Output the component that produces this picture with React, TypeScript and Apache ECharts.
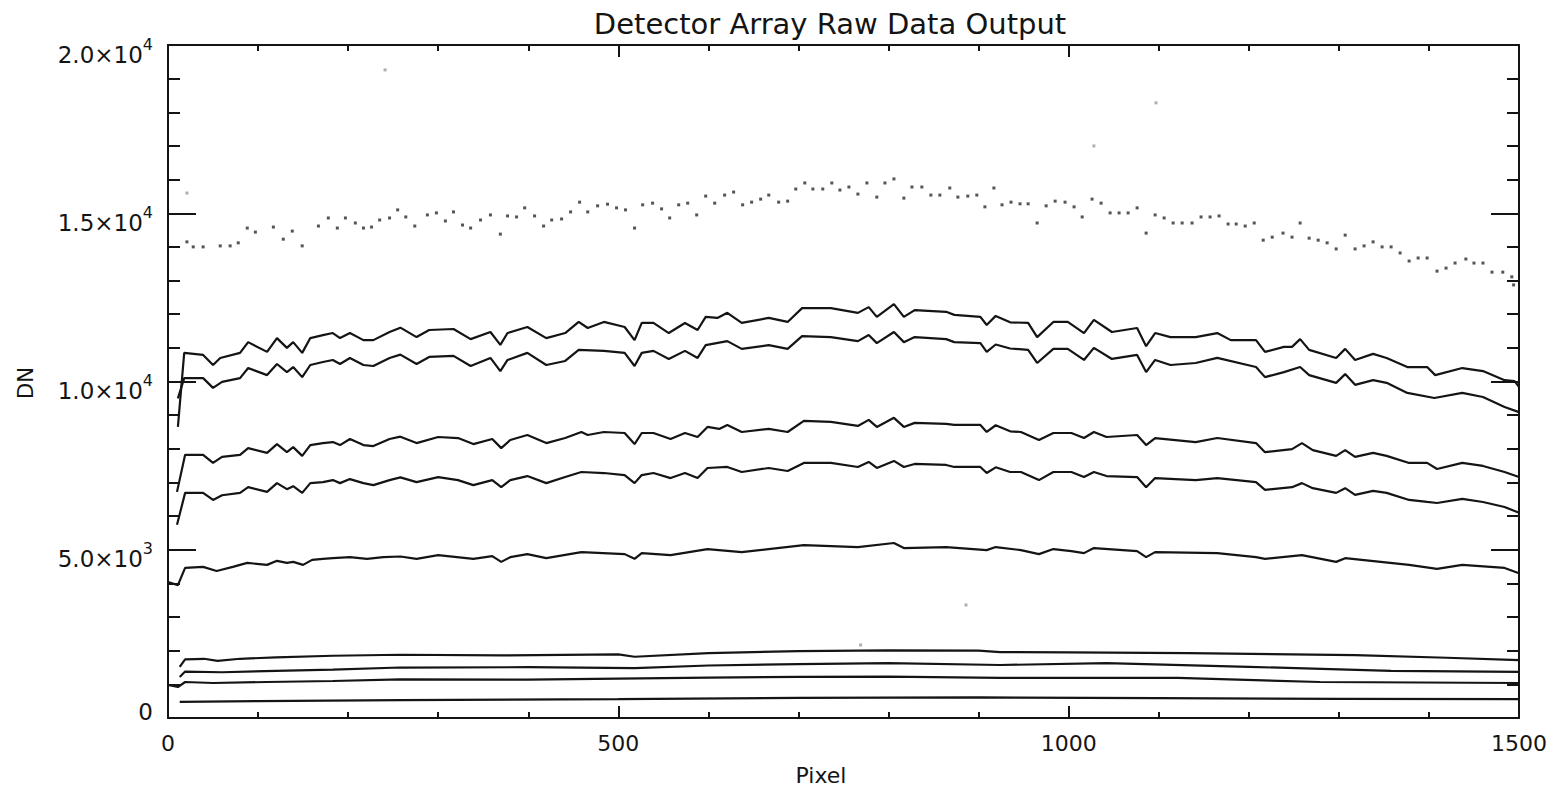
import React, { useEffect, useRef } from "react";
import * as echarts from "echarts";

const TITLE = "Detector Array Raw Data Output";
const X_NAME = "Pixel";
const Y_NAME = "DN";
const X_MIN = 0;
const X_MAX = 1500;
const X_STEP = 500;
const Y_MIN = 0;
const Y_MAX = 20000;
const Y_STEP = 5000;

// [pixel, DN]
const lineA: [number, number][] = [
  [11, 8650], [18, 10850], [39, 10790], [50, 10490], [58, 10700], [80, 10850], [89, 11170], [110, 10880],
  [121, 11290], [132, 11000], [139, 11170], [149, 10850], [158, 11290], [172, 11380], [183, 11440], [191, 11290],
  [202, 11440], [217, 11230], [228, 11230], [246, 11470], [258, 11600], [276, 11320], [290, 11530], [317, 11560],
  [336, 11260], [358, 11470], [369, 11090], [377, 11440], [399, 11620], [420, 11290], [441, 11440], [456, 11770],
  [466, 11590], [484, 11770], [507, 11620], [518, 11230], [526, 11740], [539, 11740], [556, 11440], [574, 11740],
  [588, 11530], [597, 11920], [610, 11890], [621, 12040], [637, 11740], [667, 11890], [688, 11770], [704, 12180],
  [736, 12180], [766, 12040], [778, 12210], [787, 11920], [806, 12300], [817, 11920], [829, 12120], [864, 12070],
  [873, 11980], [902, 11920], [909, 11680], [919, 11950], [935, 11760], [955, 11740], [965, 11320], [983, 11770],
  [999, 11770], [1017, 11440], [1028, 11830], [1048, 11470], [1076, 11590], [1086, 11050], [1096, 11440],
  [1113, 11320], [1141, 11320], [1165, 11440], [1180, 11230], [1208, 11230], [1218, 10880], [1239, 11030],
  [1248, 11030], [1257, 11260], [1267, 10940], [1297, 10700], [1307, 10970], [1318, 10640], [1338, 10820],
  [1353, 10700], [1376, 10430], [1398, 10430], [1407, 10190], [1437, 10400], [1460, 10310], [1484, 10040],
  [1495, 10010], [1500, 9840],
];

const lineB: [number, number][] = [
  [11, 9500], [18, 10100], [39, 10100], [50, 9810], [60, 9990], [80, 10100], [89, 10400], [110, 10190],
  [121, 10520], [132, 10280], [139, 10430], [149, 10130], [158, 10490], [172, 10580], [183, 10640], [191, 10520],
  [202, 10700], [217, 10490], [228, 10460], [246, 10700], [258, 10800], [276, 10520], [290, 10730], [317, 10760],
  [336, 10460], [358, 10700], [369, 10310], [377, 10640], [399, 10850], [420, 10490], [441, 10610], [456, 10940],
  [484, 10910], [507, 10850], [518, 10460], [526, 10850], [539, 10910], [556, 10670], [574, 10910], [588, 10700],
  [597, 11080], [621, 11200], [637, 10970], [667, 11080], [688, 10970], [704, 11350], [736, 11320], [766, 11200],
  [778, 11380], [787, 11140], [806, 11470], [817, 11170], [829, 11320], [864, 11260], [873, 11170], [902, 11140],
  [909, 10880], [919, 11100], [935, 10980], [955, 10940], [965, 10550], [983, 10970], [999, 10970], [1017, 10640],
  [1028, 11000], [1048, 10670], [1076, 10790], [1086, 10280], [1096, 10640], [1113, 10490], [1141, 10550],
  [1165, 10700], [1208, 10430], [1218, 10130], [1239, 10280], [1257, 10430], [1267, 10190], [1297, 9960],
  [1307, 10220], [1318, 9900], [1338, 10040], [1353, 9960], [1376, 9660], [1406, 9510], [1437, 9660],
  [1460, 9540], [1484, 9240], [1500, 9090],
];

const lineC: [number, number][] = [
  [10, 6720], [19, 7820], [39, 7820], [50, 7580], [60, 7760], [80, 7820], [89, 8020], [110, 7880], [121, 8140],
  [132, 7900], [139, 8050], [149, 7790], [158, 8110], [172, 8170], [183, 8200], [191, 8110], [202, 8290],
  [217, 8110], [228, 8080], [246, 8290], [258, 8360], [276, 8170], [300, 8350], [322, 8320], [339, 8140],
  [360, 8290], [370, 8020], [380, 8260], [399, 8410], [420, 8170], [441, 8320], [459, 8500], [466, 8410],
  [484, 8500], [507, 8470], [518, 8140], [526, 8470], [539, 8470], [558, 8290], [574, 8470], [588, 8350],
  [599, 8650], [612, 8590], [621, 8710], [637, 8500], [667, 8590], [688, 8500], [706, 8830], [736, 8800],
  [766, 8680], [778, 8860], [787, 8650], [806, 8920], [817, 8650], [829, 8770], [864, 8740], [873, 8710],
  [902, 8710], [909, 8500], [919, 8700], [935, 8520], [947, 8500], [967, 8260], [983, 8470], [1003, 8470],
  [1017, 8320], [1028, 8500], [1042, 8350], [1076, 8410], [1086, 8110], [1096, 8320], [1141, 8200],
  [1165, 8320], [1208, 8170], [1218, 7900], [1248, 7990], [1259, 8170], [1271, 7960], [1297, 7790],
  [1307, 7960], [1318, 7760], [1338, 7880], [1353, 7790], [1378, 7580], [1398, 7580], [1409, 7400],
  [1437, 7580], [1460, 7490], [1484, 7310], [1500, 7160],
];

const lineD: [number, number][] = [
  [10, 5740], [19, 6690], [39, 6690], [50, 6480], [60, 6620], [80, 6690], [89, 6860], [110, 6720], [121, 6980],
  [132, 6800], [139, 6890], [149, 6690], [158, 6980], [172, 7010], [183, 7070], [191, 6980], [202, 7100],
  [217, 6980], [228, 6920], [246, 7070], [258, 7150], [276, 7010], [300, 7160], [322, 7070], [339, 6920],
  [360, 7070], [370, 6860], [380, 7070], [399, 7190], [420, 6980], [441, 7160], [459, 7310], [484, 7280],
  [507, 7220], [518, 6980], [526, 7220], [539, 7280], [558, 7130], [574, 7280], [588, 7130], [599, 7430],
  [621, 7460], [637, 7310], [667, 7430], [688, 7340], [706, 7580], [736, 7580], [766, 7460], [778, 7610],
  [787, 7430], [806, 7640], [817, 7460], [829, 7550], [864, 7520], [873, 7460], [902, 7460], [909, 7280],
  [919, 7450], [935, 7310], [947, 7310], [967, 7070], [983, 7310], [1003, 7310], [1017, 7160], [1028, 7310],
  [1042, 7190], [1076, 7160], [1086, 6860], [1096, 7130], [1141, 7070], [1165, 7130], [1208, 7010],
  [1218, 6780], [1248, 6860], [1259, 6980], [1271, 6830], [1297, 6690], [1307, 6830], [1318, 6630],
  [1338, 6750], [1353, 6690], [1378, 6480], [1398, 6420], [1409, 6390], [1437, 6510], [1460, 6420],
  [1484, 6270], [1500, 6100],
];

const lineE: [number, number][] = [
  [0, 4040], [11, 3950], [19, 4460], [39, 4490], [54, 4370], [72, 4490], [88, 4610], [110, 4550], [121, 4670],
  [132, 4610], [139, 4640], [150, 4550], [160, 4700], [172, 4730], [183, 4750], [202, 4780], [221, 4730],
  [239, 4780], [258, 4800], [276, 4730], [300, 4840], [339, 4730], [360, 4810], [370, 4640], [380, 4780],
  [399, 4870], [420, 4750], [459, 4930], [507, 4870], [518, 4730], [526, 4900], [558, 4840], [599, 5020],
  [637, 4930], [706, 5140], [766, 5080], [806, 5200], [817, 5050], [864, 5080], [909, 4990], [919, 5080],
  [947, 4990], [967, 4870], [983, 5020], [1003, 4960], [1017, 4900], [1028, 5050], [1076, 4960], [1086, 4780],
  [1096, 4930], [1165, 4900], [1208, 4780], [1218, 4730], [1259, 4840], [1297, 4640], [1307, 4750],
  [1378, 4550], [1409, 4430], [1437, 4550], [1484, 4460], [1500, 4300],
];

const lineF: [number, number][] = [
  [13, 1520], [19, 1740], [40, 1760], [55, 1700], [80, 1760], [120, 1800], [183, 1850], [258, 1880],
  [370, 1860], [500, 1890], [518, 1820], [600, 1930], [700, 1990], [800, 2010], [900, 2000], [924, 1960],
  [1000, 1950], [1133, 1930], [1318, 1870], [1420, 1790], [1500, 1720],
];

const lineG: [number, number][] = [
  [13, 1220], [19, 1380], [60, 1360], [120, 1400], [183, 1440], [258, 1500], [400, 1510], [518, 1480],
  [600, 1560], [700, 1600], [800, 1630], [924, 1575], [1042, 1630], [1200, 1520], [1358, 1400], [1500, 1370],
];

const lineH: [number, number][] = [
  [0, 980], [11, 920], [19, 1070], [50, 1040], [110, 1070], [183, 1100], [258, 1150], [400, 1140],
  [500, 1170], [600, 1200], [700, 1220], [800, 1230], [924, 1190], [1121, 1190], [1279, 1070], [1500, 1040],
];

const lineI: [number, number][] = [
  [13, 480], [100, 500], [258, 530], [500, 560], [700, 600], [900, 610], [1100, 590], [1300, 570], [1500, 560],
];

const dots: [number, number][] = [
  [21, 14150], [28, 14000], [39, 14000], [58, 14030], [69, 14030], [78, 14120], [88, 14560], [97, 14440],
  [117, 14590], [128, 14230], [138, 14470], [149, 14030], [167, 14620], [178, 14860], [188, 14560], [197, 14860],
  [208, 14710], [217, 14560], [226, 14590], [235, 14800], [246, 14860], [255, 15100],
  [264, 14890], [274, 14620], [288, 14950], [298, 15010], [308, 14770], [317, 15040], [327, 14650], [336, 14560],
  [347, 14800], [358, 14950], [369, 14380], [377, 14920], [387, 14890], [396, 15160], [407, 14920], [417, 14620],
  [426, 14800], [437, 14830], [447, 15040], [457, 15330], [466, 15040], [477, 15220], [488, 15270], [498, 15160],
  [508, 15100], [518, 14560], [527, 15250], [538, 15300], [548, 15130], [557, 14860], [567, 15250], [577, 15300],
  [587, 14950], [597, 15510], [607, 15300], [618, 15540], [628, 15630], [638, 15250], [648, 15330], [658, 15420],
  [667, 15540], [678, 15330], [688, 15360], [697, 15720], [707, 15900], [716, 15720], [727, 15720], [737, 15900],
  [746, 15690], [756, 15780], [766, 15570], [776, 15900], [787, 15480], [796, 15900], [806, 16020], [817, 15450],
  [826, 15780], [837, 15780], [847, 15540], [857, 15540], [868, 15750], [877, 15480], [888, 15510], [898, 15540],
  [907, 15190], [917, 15750], [926, 15250], [936, 15330], [946, 15280], [955, 15280], [965, 14710], [975, 15220],
  [985, 15360], [996, 15330], [1006, 15190], [1015, 14890], [1026, 15420], [1036, 15300], [1046, 15010],
  [1056, 15010], [1066, 15010], [1076, 15160], [1086, 14410], [1096, 14950], [1106, 14860], [1116, 14710],
  [1126, 14710], [1137, 14710], [1147, 14890], [1157, 14890], [1167, 14920], [1177, 14680], [1186, 14680],
  [1196, 14620], [1206, 14710], [1216, 14200], [1226, 14290], [1238, 14410], [1248, 14290], [1257, 14710],
  [1267, 14260], [1277, 14200], [1287, 14120], [1297, 13940], [1307, 14350], [1318, 13940], [1328, 14030],
  [1338, 14150], [1348, 14000], [1358, 14000], [1368, 13820], [1378, 13580], [1388, 13670], [1398, 13670],
  [1409, 13280], [1419, 13370], [1429, 13520], [1441, 13640], [1450, 13520], [1460, 13520], [1470, 13250],
  [1482, 13250], [1492, 13110], [1494, 12870],
];

const strayDots: [number, number][] = [
  [21, 15600], [241, 19260], [1028, 17000], [1097, 18280], [769, 2170], [886, 3360],
];

const solidLines = [lineA, lineB, lineC, lineD, lineE, lineF, lineG, lineH, lineI];

const INK = "#141414";
const FONT = "DejaVu Sans";

function yLabel(v: number): string {
  if (v === 0) return "{z|0}\n{e| }";
  const e = Math.floor(Math.log10(v));
  const m = (v / Math.pow(10, e)).toFixed(1);
  return `{a|${m}×10}{s|${e}}`;
}

export default function App() {
  const ref = useRef<HTMLDivElement>(null);

  useEffect(() => {
    if (!ref.current) return;
    const chart = echarts.init(ref.current, undefined, { renderer: "svg" });

    const axisLine = { show: true, onZero: false, lineStyle: { color: INK, width: 2 } };
    const xTick = { show: true, inside: true, length: 12, lineStyle: { color: INK, width: 2 } };
    const xMinor = { show: true, splitNumber: 5, length: 6, lineStyle: { color: INK, width: 2 } };
    const yTick = { show: true, inside: true, length: 28, lineStyle: { color: INK, width: 2 } };
    const yMinor = { show: true, splitNumber: 5, length: 12, lineStyle: { color: INK, width: 2 } };

    const xBase = {
      type: "value",
      min: X_MIN,
      max: X_MAX,
      interval: X_STEP,
      axisLine,
      axisTick: xTick,
      minorTick: xMinor,
      splitLine: { show: false },
      minorSplitLine: { show: false },
    };
    const yBase = {
      type: "value",
      min: Y_MIN,
      max: Y_MAX,
      interval: Y_STEP,
      axisLine,
      axisTick: yTick,
      minorTick: yMinor,
      splitLine: { show: false },
      minorSplitLine: { show: false },
    };

    const series: any[] = solidLines.map((d) => ({
      type: "line",
      data: d,
      showSymbol: false,
      symbol: "none",
      lineStyle: { color: INK, width: 2.2 },
      silent: true,
    }));
    series.push({
      type: "scatter",
      data: dots,
      symbol: "rect",
      symbolSize: [3, 3],
      itemStyle: { color: "#2a2a2a" },
      silent: true,
    });
    series.push({
      type: "scatter",
      data: strayDots,
      symbol: "rect",
      symbolSize: [3, 3],
      itemStyle: { color: "#9a9a9a" },
      silent: true,
    });

    chart.setOption({
      animation: false,
      backgroundColor: "#ffffff",
      title: {
        text: TITLE,
        left: 825,
        top: 4,
        textAlign: "center",
        textStyle: { fontFamily: FONT, fontSize: 29, fontWeight: "normal", color: INK },
      },
      grid: { left: 168, right: 37, top: 45, bottom: 69, containLabel: false },
      xAxis: [
        {
          ...xBase,
          position: "bottom",
          axisLabel: {
            show: true,
            margin: 14,
            fontFamily: FONT,
            fontSize: 22,
            color: INK,
            formatter: (v: number) => String(v),
          },
        },
        {
          ...xBase,
          position: "top",
          axisLabel: { show: false },
        },
      ],
      yAxis: [
        {
          ...yBase,
          position: "left",
          axisLabel: {
            show: true,
            margin: 15,
            padding: [12, 0, 0, 0],
            formatter: yLabel,
            color: INK,
            rich: {
              a: { fontFamily: FONT, fontSize: 23, lineHeight: 30, verticalAlign: "bottom", color: INK },
              s: { fontFamily: FONT, fontSize: 16, lineHeight: 30, verticalAlign: "top", color: INK },
              z: { fontFamily: FONT, fontSize: 23, lineHeight: 30, color: INK },
              e: { fontFamily: FONT, fontSize: 10, lineHeight: 24, color: INK },
            },
          },
        },
        {
          ...yBase,
          position: "right",
          axisLabel: { show: false },
        },
      ],
      graphic: [
        {
          type: "text",
          x: 821,
          y: 775,
          style: { text: X_NAME, fontFamily: FONT, fontSize: 22, fill: INK, align: "center", verticalAlign: "middle" },
        },
        {
          type: "text",
          x: 26,
          y: 383,
          rotation: Math.PI / 2,
          style: { text: Y_NAME, fontFamily: FONT, fontSize: 21, fill: INK, align: "center", verticalAlign: "middle" },
        },
      ],
      series,
    });

    return () => chart.dispose();
  }, []);

  return (
    <div
      ref={ref}
      style={{ position: "fixed", left: 0, top: 0, width: 1556, height: 787, background: "#fff" }}
    />
  );
}
